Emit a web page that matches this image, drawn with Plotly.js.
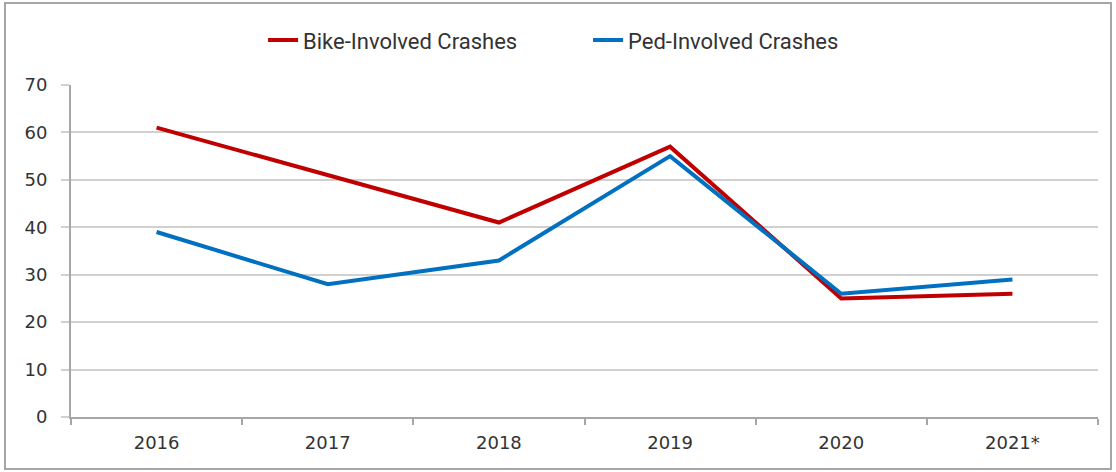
<!DOCTYPE html>
<html>
<head>
<meta charset="utf-8">
<script src="https://cdn.plot.ly/plotly-3.0.1.min.js"></script>
<style>
  html, body { margin: 0; padding: 0; background: #fff; }
  #chart { width: 1116px; height: 472px; position: relative; }
  #frame { position: absolute; left: 4px; top: 2px; width: 1104px; height: 464px;
           border: 2px solid #a6a6a6; pointer-events: none; }
</style>
</head>
<body>
<div id="chart"></div>
<div id="frame"></div>
<script>
const years = ['2016', '2017', '2018', '2019', '2020', '2021*'];
const bikeCrashes = [61, 51, 41, 57, 25, 26];
const pedCrashes = [39, 28, 33, 55, 26, 29];

const traces = [
  {
    x: years, y: bikeCrashes, type: 'scatter', mode: 'lines',
    name: 'Bike-Involved Crashes',
    line: { color: '#c00000', width: 4 }
  },
  {
    x: years, y: pedCrashes, type: 'scatter', mode: 'lines',
    name: 'Ped-Involved Crashes',
    line: { color: '#0070c0', width: 4 }
  }
];

const layout = {
  width: 1116,
  height: 472,
  margin: { l: 71, r: 18, t: 85, b: 55 },
  paper_bgcolor: '#ffffff',
  plot_bgcolor: '#ffffff',
  font: { family: 'DejaVu Sans', size: 18, color: '#333333' },
  showlegend: true,
  legend: {
    orientation: 'h', x: 0.187, xanchor: 'left', y: 1.135, yanchor: 'middle',
    font: { family: 'Roboto', size: 22, color: '#333333' },
    entrywidth: 280, entrywidthmode: 'pixels'
  },
  xaxis: {
    type: 'category',
    range: [-0.5, 5.5],
    showgrid: false,
    showline: true, linecolor: '#a6a6a6', linewidth: 2,
    ticks: 'outside', tickson: 'boundaries', ticklen: 6, tickcolor: '#a6a6a6', tickwidth: 2,
    ticklabelstandoff: 8,
    zeroline: false
  },
  yaxis: {
    range: [0, 70], dtick: 10,
    showgrid: true, gridcolor: '#d0d0d0', gridwidth: 2,
    showline: true, linecolor: '#a6a6a6', linewidth: 2,
    ticks: 'outside', ticklen: 8, tickcolor: '#d0d0d0', tickwidth: 2,
    ticklabelstandoff: 10,
    zeroline: false
  }
};

Plotly.newPlot('chart', traces, layout, { displayModeBar: false, staticPlot: true });
</script>
</body>
</html>
